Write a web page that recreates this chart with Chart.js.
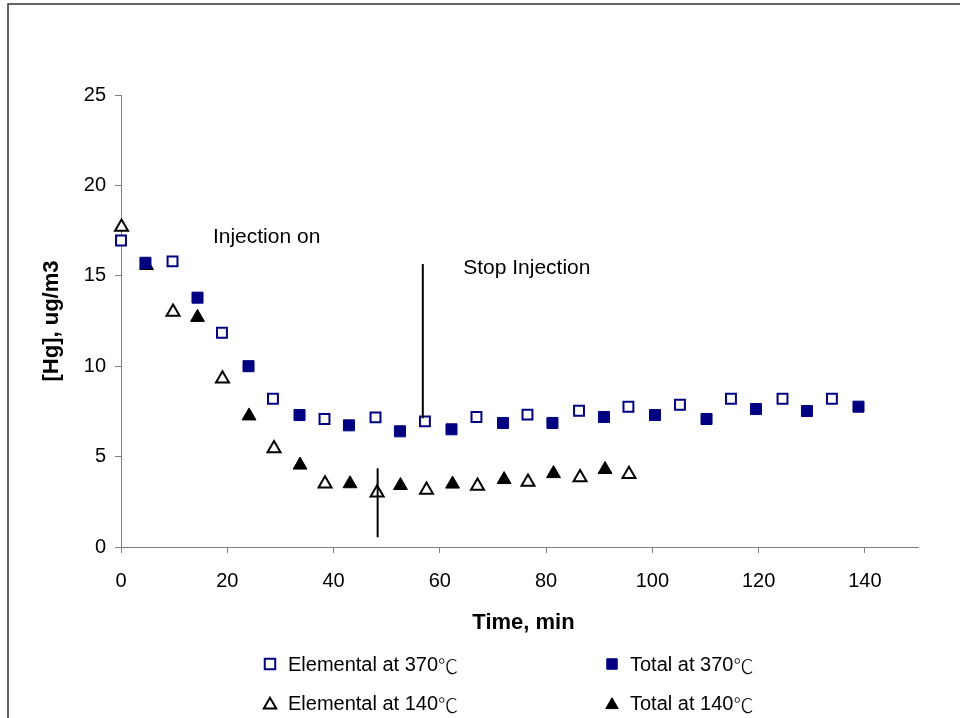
<!DOCTYPE html>
<html>
<head>
<meta charset="utf-8">
<script src="https://cdn.jsdelivr.net/npm/chart.js@4.4.0/dist/chart.umd.min.js"></script>
<style>
    html, body { margin: 0; padding: 0; background: #ffffff; }
    #wrap { width: 960px; height: 718px; }
</style>
</head>
<body>
<div id="wrap"><canvas id="hgChart" width="960" height="718"></canvas></div>
<script>
const FONT = "'Liberation Sans', Arial, 'Noto Sans CJK SC', sans-serif";
const CJK_FONT = "'Noto Sans CJK SC', 'Noto Sans CJK JP', sans-serif";

// ================== DATA ==================
const seriesNames = ["Elemental at 370℃", "Total at 370℃", "Elemental at 140℃", "Total at 140℃"];

const elem370Time = [0, 9.7, 19.0, 28.6, 38.3, 47.9, 57.2, 66.9, 76.5, 86.2, 95.5, 105.2, 114.8, 124.5, 133.8];
const elem370Hg   = [16.95, 15.8, 11.85, 8.2, 7.08, 7.17, 6.95, 7.19, 7.32, 7.54, 7.76, 7.87, 8.2, 8.2, 8.2];

const total370Time = [4.6, 14.4, 24.0, 33.6, 42.9, 52.5, 62.2, 71.9, 81.2, 90.9, 100.5, 110.2, 119.5, 129.1, 138.8];
const total370Hg   = [15.72, 13.79, 10.0, 7.3, 6.73, 6.4, 6.51, 6.86, 6.86, 7.19, 7.3, 7.08, 7.63, 7.52, 7.76];

const elem140Time = [0.1, 9.8, 19.1, 28.8, 38.4, 48.2, 57.5, 67.1, 76.6, 86.4, 95.6];
const elem140Hg   = [17.7, 13.0, 9.3, 5.45, 3.5, 3.0, 3.15, 3.37, 3.6, 3.84, 4.03];

const total140Time = [4.8, 14.4, 24.1, 33.7, 43.1, 52.6, 62.4, 72.1, 81.4, 91.1];
const total140Hg   = [15.57, 12.7, 7.25, 4.53, 3.5, 3.4, 3.48, 3.73, 4.06, 4.29];

// annotations (in data units)
const noteLabels = ["Injection on", "Stop Injection"];
const noteTime   = [17.3, 64.4];
const noteHg     = [16.83, 15.08];
const cueTime    = [48.3, 56.8];
const cueFrom    = [0.54, 7.12];
const cueTo      = [4.35, 15.65];

const xTitle = "Time, min";
const yTitle = "[Hg], ug/m3";

function toPoints(xs, ys) {
    return xs.map((x, i) => ({ x: x, y: ys[i] }));
}

// ================== PLUGINS ==================
const frameAndNotes = {
    id: "frameAndNotes",
    beforeDraw(chart) {
        const ctx = chart.ctx;
        ctx.save();
        ctx.fillStyle = "#ffffff";
        ctx.fillRect(0, 0, chart.width, chart.height);
        ctx.strokeStyle = "#333333";
        ctx.lineWidth = 1.5;
        ctx.beginPath();
        ctx.moveTo(8, chart.height);
        ctx.lineTo(8, 4);
        ctx.lineTo(chart.width, 4);
        ctx.stroke();
        ctx.restore();
    },
    afterDraw(chart) {
        const ctx = chart.ctx;
        const xs = chart.scales.x;
        const ys = chart.scales.y;
        const area = chart.chartArea;
        ctx.save();

        // vertical cue lines
        ctx.strokeStyle = "#000000";
        ctx.lineWidth = 2;
        cueTime.forEach((t, i) => {
            const px = xs.getPixelForValue(t);
            ctx.beginPath();
            ctx.moveTo(px, ys.getPixelForValue(cueFrom[i]));
            ctx.lineTo(px, ys.getPixelForValue(cueTo[i]));
            ctx.stroke();
        });

        // annotation text
        ctx.fillStyle = "#000000";
        ctx.font = "21px " + FONT;
        ctx.textAlign = "left";
        ctx.textBaseline = "alphabetic";
        noteLabels.forEach((txt, i) => {
            ctx.fillText(txt, xs.getPixelForValue(noteTime[i]), ys.getPixelForValue(noteHg[i]));
        });

        // axis titles
        ctx.font = "bold 22px " + FONT;
        ctx.textAlign = "center";
        ctx.textBaseline = "middle";
        ctx.fillText(xTitle, (area.left + area.right) / 2 + 4, 623);
        ctx.save();
        ctx.translate(52, (area.top + area.bottom) / 2);
        ctx.rotate(-Math.PI / 2);
        ctx.fillText(yTitle, 0, 0);
        ctx.restore();

        // legend, 2 x 2 grid
        const cols = [270, 612];
        const rows = [664, 703];
        ctx.textAlign = "left";
        ctx.textBaseline = "middle";
        chart.data.datasets.forEach((ds, i) => {
            const cx = cols[i % 2];
            const cy = rows[Math.floor(i / 2)];
            const isTri = ds.pointStyle === "triangle";
            ctx.fillStyle = ds.backgroundColor;
            ctx.strokeStyle = ds.borderColor;
            ctx.lineWidth = ds.borderWidth;
            Chart.helpers.drawPoint(ctx, {
                pointStyle: ds.pointStyle,
                radius: isTri ? 7.2 : 7.4,
                rotation: 0,
                borderWidth: ds.borderWidth
            }, cx, cy + (isTri ? 2 : 0));

            // label text, with the degree sign set in a CJK face like the original
            const unit = "℃";
            const main = ds.label.replace(unit, "");
            ctx.fillStyle = "#000000";
            ctx.font = "20px " + FONT;
            const tx = cx + 18;
            ctx.fillText(main, tx, cy + 1);
            const w = ctx.measureText(main).width;
            ctx.font = "300 20px " + CJK_FONT;
            ctx.fillText(unit, tx + w, cy + 2);
        });

        ctx.restore();
    }
};

// ================== CHART ==================
const ctx = document.getElementById("hgChart").getContext("2d");

new Chart(ctx, {
    type: "scatter",
    data: {
        datasets: [
            {
                label: seriesNames[0],
                data: toPoints(elem370Time, elem370Hg),
                pointStyle: "rect",
                pointRadius: 7,
                backgroundColor: "#ffffff",
                borderColor: "#000080",
                borderWidth: 2,
                clip: false
            },
            {
                label: seriesNames[1],
                data: toPoints(total370Time, total370Hg),
                pointStyle: "rect",
                pointRadius: 7.8,
                backgroundColor: "#000080",
                borderColor: "#000080",
                borderWidth: 1,
                clip: false
            },
            {
                label: seriesNames[2],
                data: toPoints(elem140Time, elem140Hg),
                pointStyle: "triangle",
                pointRadius: 7.5,
                backgroundColor: "#ffffff",
                borderColor: "#000000",
                borderWidth: 2,
                clip: false
            },
            {
                label: seriesNames[3],
                data: toPoints(total140Time, total140Hg),
                pointStyle: "triangle",
                pointRadius: 8,
                backgroundColor: "#000000",
                borderColor: "#000000",
                borderWidth: 1,
                clip: false
            }
        ]
    },
    options: {
        responsive: false,
        animation: false,
        layout: {
            padding: { top: 95, right: 42, left: 0, bottom: 0 }
        },
        plugins: {
            legend: { display: false },
            tooltip: { enabled: false }
        },
        scales: {
            x: {
                type: "linear",
                min: 0,
                max: 150,
                afterFit: (scale) => { scale.height = 171; },
                grid: {
                    drawOnChartArea: false,
                    drawTicks: true,
                    tickLength: 6,
                    color: "#808080"
                },
                border: { color: "#808080", width: 1 },
                ticks: {
                    stepSize: 20,
                    includeBounds: false,
                    padding: 16,
                    color: "#000000",
                    font: { family: FONT, size: 20 },
                    maxRotation: 0
                }
            },
            y: {
                type: "linear",
                min: 0,
                max: 25,
                afterFit: (scale) => { scale.width = 121; },
                grid: {
                    drawOnChartArea: false,
                    drawTicks: true,
                    tickLength: 6,
                    color: "#808080"
                },
                border: { color: "#808080", width: 1 },
                ticks: {
                    stepSize: 5,
                    padding: 9,
                    color: "#000000",
                    font: { family: FONT, size: 20 }
                }
            }
        }
    },
    plugins: [frameAndNotes]
});
</script>
</body>
</html>
